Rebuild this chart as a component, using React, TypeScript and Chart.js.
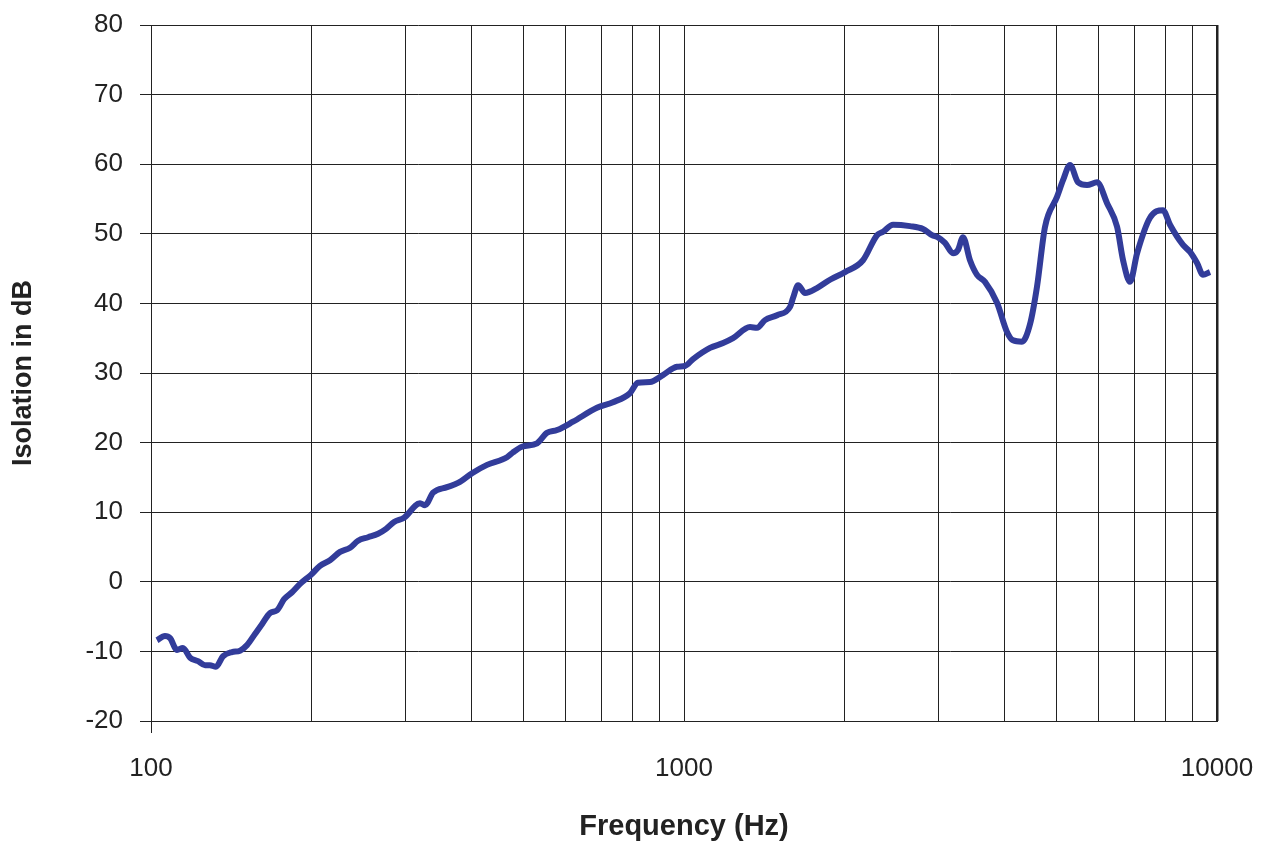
import React, { useEffect, useRef } from "react";
import { Chart, registerables } from "chart.js";

Chart.register(...registerables);

const frequencies = [
  102.6, 106.2, 108.6, 111.9, 114.8, 118.4, 122.5, 126.3, 129.0, 132.4,
  136.5, 141.9, 146.9, 151.4, 156.7, 161.5, 167.2, 172.4, 177.7, 183.9,
  190.4, 199.6, 207.5, 216.7, 226.3, 236.3, 244.6, 255.4, 266.7, 276.1,
  285.8, 298.4, 319.7, 326.7, 338.2, 359.2, 376.7, 400.3, 427.0, 465.5,
  477.7, 496.6, 530.0, 553.4, 577.8, 619.1, 686.6, 735.8, 791.7, 819.6,
  863.2, 912.9, 970.2, 1004, 1040, 1119, 1184, 1236, 1330, 1371,
  1419, 1495, 1581, 1602, 1637, 1687, 1776, 1879, 2005, 2167,
  2302, 2363, 2467, 2655, 2808, 2919, 2996, 3088, 3197, 3267,
  3338, 3440, 3546, 3670, 3866, 4036, 4143, 4306, 4458, 4595,
  4757, 5010, 5142, 5300, 5486, 5704, 5956, 6219, 6494, 6664,
  6869, 7080, 7487, 7918, 8162, 8635, 8900, 9174, 9412, 9703,
];

const isolation = [
  -8.4, -7.8, -8.1, -9.8, -9.5, -10.9, -11.4, -12.0, -12.0, -12.2,
  -10.7, -10.1, -9.9, -9.1, -7.5, -6.1, -4.5, -4.1, -2.5, -1.5,
  -0.3, 1.0, 2.3, 3.1, 4.3, 4.9, 5.9, 6.4, 6.9, 7.6,
  8.6, 9.2, 11.3, 11.0, 12.8, 13.6, 14.2, 15.6, 16.8, 17.9,
  18.6, 19.4, 19.9, 21.4, 21.8, 23.0, 25.0, 25.8, 27.1, 28.6,
  28.7, 29.7, 30.9, 31.0, 32.0, 33.6, 34.3, 35.0, 36.6, 36.5,
  37.6, 38.3, 39.5, 40.8, 42.6, 41.5, 42.2, 43.4, 44.5, 46.2,
  49.8, 50.3, 51.3, 51.1, 50.7, 49.8, 49.5, 48.7, 47.2, 47.7,
  49.5, 46.2, 44.1, 43.1, 40.1, 35.9, 34.7, 34.5, 37.0, 42.4,
  51.0, 55.3, 57.7, 59.9, 57.4, 57.0, 57.4, 54.4, 51.0, 46.2,
  43.1, 47.2, 52.3, 53.4, 51.3, 48.4, 47.4, 45.8, 44.1, 44.5,
];

const gridFrequencies = [
  100, 200, 300, 400, 500, 600, 700, 800, 900,
  1000, 2000, 3000, 4000, 5000, 6000, 7000, 8000, 9000, 10000,
];
const labeledFrequencies = [100, 1000, 10000];

const yMin = -20;
const yMax = 80;
const yStep = 10;

const FONT = "'Liberation Sans', Arial, Helvetica, sans-serif";
const AXIS_COLOR = "#222222";

export default function App() {
  const ref = useRef<HTMLCanvasElement>(null);

  useEffect(() => {
    const chart = new Chart(ref.current as HTMLCanvasElement, {
      type: "line",
      data: {
        datasets: [
          {
            data: frequencies.map((f, i) => ({ x: f, y: isolation[i] })),
            borderColor: "#323c9a",
            borderWidth: 6,
            pointRadius: 0,
            tension: 0.4,
            cubicInterpolationMode: "monotone",
            fill: false,
          },
        ],
      },
      options: {
        animation: false,
        responsive: false,
        maintainAspectRatio: false,
        layout: { padding: { left: 0, right: 44, top: 25, bottom: 0 } },
        plugins: { legend: { display: false }, tooltip: { enabled: false } },
        scales: {
          x: {
            type: "logarithmic",
            min: 100,
            max: 10000,
            afterBuildTicks: (s: any) => {
              s.ticks = gridFrequencies.map((v) => ({ value: v }));
            },
            afterFit: (s: any) => {
              s.height = 120;
              s.paddingLeft = 0;
              s.paddingRight = 0;
            },
            ticks: {
              autoSkip: false,
              maxRotation: 0,
              color: AXIS_COLOR,
              padding: 20,
              font: { family: FONT, size: 26 },
              callback: (v: any) =>
                labeledFrequencies.includes(Number(v)) ? String(v) : "",
            },
            grid: {
              color: AXIS_COLOR,
              lineWidth: (ctx: any) => (ctx.index === gridFrequencies.length - 1 ? 2.5 : 1),
              tickLength: 12,
              tickColor: (ctx: any) => (ctx.index === 0 ? AXIS_COLOR : "rgba(0,0,0,0)"),
            },
            border: { display: true, color: AXIS_COLOR, width: 1 },
            title: {
              display: true,
              text: "Frequency (Hz)",
              color: AXIS_COLOR,
              padding: { top: 0, bottom: 0 },
              font: { family: FONT, size: 29, weight: "bold", lineHeight: 1.0 },
            },
          },
          y: {
            type: "linear",
            min: yMin,
            max: yMax,
            afterFit: (s: any) => {
              s.width = 151;
              s.paddingTop = 0;
              s.paddingBottom = 0;
            },
            ticks: {
              stepSize: yStep,
              color: AXIS_COLOR,
              padding: 17,
              font: { family: FONT, size: 26 },
            },
            grid: {
              color: AXIS_COLOR,
              lineWidth: 1,
              tickLength: 11,
            },
            border: { display: true, color: AXIS_COLOR, width: 1 },
            title: {
              display: true,
              text: "Isolation in dB",
              color: AXIS_COLOR,
              padding: { top: 7, bottom: 0 },
              font: { family: FONT, size: 27, weight: "bold" },
            },
          },
        },
      },
    } as any);
    return () => chart.destroy();
  }, []);

  return (
    <div
      style={{
        position: "fixed",
        left: 0,
        top: 0,
        width: 1261,
        height: 841,
        background: "#ffffff",
      }}
    >
      <canvas ref={ref} width={1261} height={841} />
    </div>
  );
}
